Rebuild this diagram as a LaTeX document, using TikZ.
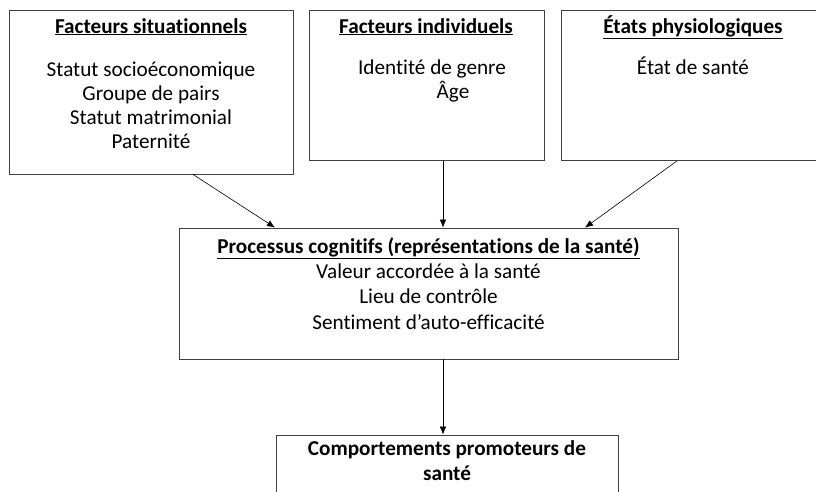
\documentclass[tikz,border=0pt]{standalone}
\usepackage{fontspec}
\setmainfont{Carlito}[Ligatures=NoCommon]
\usetikzlibrary{arrows.meta}

\tikzset{
  box/.style={draw=black!75, line width=0.8pt, inner sep=0pt},
  titre/.style={anchor=base, inner sep=0pt, font=\fontsize{21.2}{24}\selectfont\bfseries},
  corps/.style={anchor=base, align=center, inner sep=0pt, font=\fontsize{21.2}{23.7}\selectfont},
  fleche/.style={-{Latex[length=8pt,width=6.5pt]}, line width=0.6pt}
}

\begin{document}
\begin{tikzpicture}[x=1pt, y=-1pt]
    \useasboundingbox (0,0) rectangle (816,491);
    \clip (0,0) rectangle (816,491);
    % Draw the boxes
    \node[box, minimum width=284, minimum height=164] (sit) at (151,92) {};
    \node[box, minimum width=235, minimum height=150.5] (ind) at (426.5,85.25) {};
    \node[box, minimum width=264, minimum height=150.5] (phy) at (693,85.25) {};
    \node[box, minimum width=499, minimum height=131] (proc) at (428.5,293.5) {};
    \node[box, minimum width=342, minimum height=90] (comp) at (447,480) {};
    % Draw the titles and texts (base = last line)
    \node[titre] (sit-t) at (151,33) {\underline{Facteurs situationnels}};
    \node[corps] (sit-c) at (151,148) {Statut socioéconomique\\Groupe de pairs\\Statut matrimonial\\Paternité};
    \node[titre] (ind-t) at (426,33) {\underline{Facteurs individuels}};
    \node[corps] (ind-c) at (432,98) {Identité de genre\\\hspace*{42pt}Âge};
    \node[titre] (phy-t) at (693,33) {\underline{États physiologiques}};
    \node[corps] (phy-c) at (693,74) {État de santé};
    \node[titre] (proc-t) at (428.5,253) {\underline{Processus cognitifs (représentations de la santé)}};
    \node[corps, font=\fontsize{21.2}{25.5}\selectfont] (proc-c) at (428.5,329) {Valeur accordée à la santé\\Lieu de contrôle\\Sentiment d’auto-efficacité};
    \node[corps, font=\fontsize{21.2}{25}\selectfont\bfseries] (comp-t) at (447,480) {Comportements promoteurs de\\santé};
    % Draw the arrows
    \draw[fleche] ([xshift=42pt]sit.south) -- ([xshift=-153.5pt]proc.north);
    \draw[fleche] ([xshift=16.5pt]ind.south) -- ([xshift=14.5pt]proc.north);
    \draw[fleche] ([xshift=-16pt]phy.south) -- ([xshift=156.5pt]proc.north);
    \draw[fleche] ([xshift=14.5pt]proc.south) -- ([xshift=-4pt]comp.north);
\end{tikzpicture}
\end{document}
